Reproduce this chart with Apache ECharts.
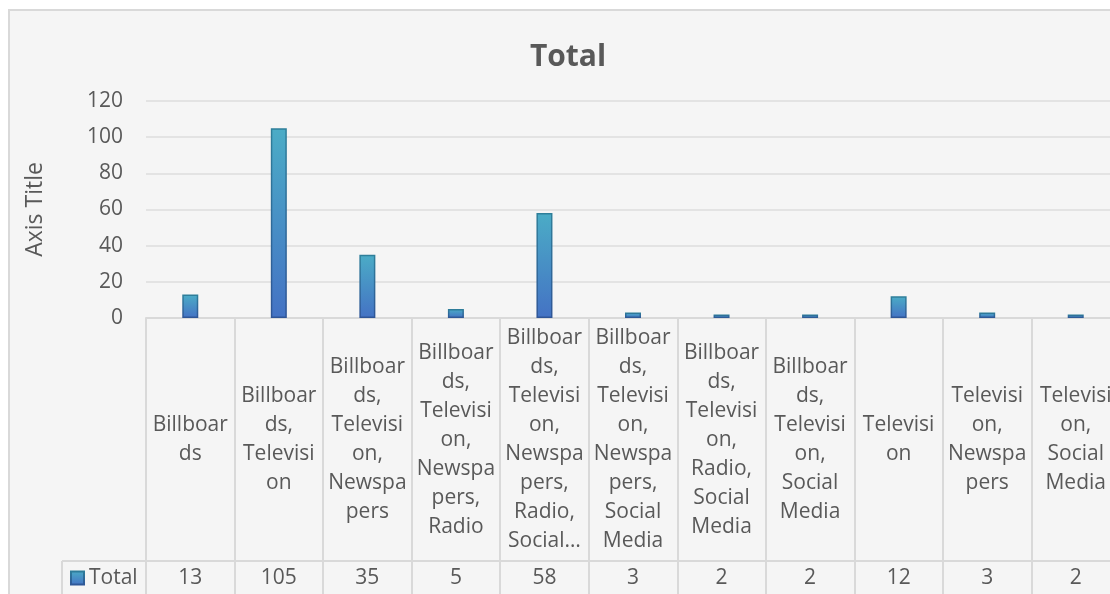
<!DOCTYPE html>
<html>
<head>
<meta charset="utf-8">
<script src="https://cdn.jsdelivr.net/npm/echarts@6/dist/echarts.min.js"></script>
<style>
  html, body { margin: 0; padding: 0; background: #ffffff; }
  #chart { width: 1110px; height: 594px; }
</style>
</head>
<body>
<div id="chart"></div>
<script>
// Media combinations and how many respondents picked each one
const categories = [
  'Billboards',
  'Billboards, Television',
  'Billboards, Television, Newspapers',
  'Billboards, Television, Newspapers, Radio',
  'Billboards, Television, Newspapers, Radio, Social Media',
  'Billboards, Television, Newspapers, Social Media',
  'Billboards, Television, Radio, Social Media',
  'Billboards, Television, Social Media',
  'Television',
  'Television, Newspapers',
  'Television, Social Media'
];
const totals = [13, 105, 35, 5, 58, 3, 2, 2, 12, 3, 2];
const yTicks = [0, 20, 40, 60, 80, 100, 120];
const seriesName = 'Total';
const chartTitle = 'Total';
const yAxisTitle = 'Axis Title';

const FONT = '"Open Sans", "Noto Sans", sans-serif';
const TEXT = '#595959';
const LINE = '#d9d9d9';
const LABEL_SIZE = 21;
const CELL_TEXT_WIDTH = 81;
const CELL_MAX_LINES = 8;

// Word-wrap a category name the way a narrow table cell does it:
// break between words, split words that are too long on their own,
// and cut the text with an ellipsis when it runs out of lines.
const measureCtx = document.createElement('canvas').getContext('2d');
function wrapLabel(text) {
  measureCtx.font = LABEL_SIZE + 'px ' + FONT;
  const w = s => measureCtx.measureText(s).width;
  const lines = [];
  let line = '';
  for (const word of text.split(' ')) {
    const candidate = line ? line + ' ' + word : word;
    if (w(candidate) <= CELL_TEXT_WIDTH) { line = candidate; continue; }
    if (line) lines.push(line);
    let rest = word;
    while (w(rest) > CELL_TEXT_WIDTH && rest.length > 1) {
      let n = rest.length;
      while (n > 1 && w(rest.slice(0, n)) > CELL_TEXT_WIDTH) n--;
      lines.push(rest.slice(0, n));
      rest = rest.slice(n);
    }
    line = rest;
  }
  if (line) lines.push(line);
  if (lines.length > CELL_MAX_LINES) {
    lines.length = CELL_MAX_LINES;
    lines[CELL_MAX_LINES - 1] += '…';
  }
  return lines.join('\n');
}

const barFill = new echarts.graphic.LinearGradient(0, 0, 0, 1, [
  { offset: 0, color: '#4bacc6' },
  { offset: 1, color: '#4472c4' }
]);
const barEdge = new echarts.graphic.LinearGradient(0, 0, 0, 1, [
  { offset: 0, color: '#2e7f9a' },
  { offset: 1, color: '#2f5597' }
]);

const chart = echarts.init(document.getElementById('chart'), null, { renderer: 'canvas' });

chart.setOption({
  backgroundColor: '#ffffff',
  animation: false,
  textStyle: { fontFamily: FONT },
  title: {
    text: chartTitle,
    left: 563,
    top: 37,
    textAlign: 'center',
    textStyle: { fontFamily: FONT, fontSize: 30, fontWeight: 'bold', color: TEXT }
  },
  // chart area panel with its thin border
  graphic: [
    {
      type: 'rect', z: -10, silent: true,
      shape: { x: 9, y: 10, width: 1109, height: 600 },
      style: { fill: '#f5f5f5', stroke: LINE, lineWidth: 2 }
    },
    // left and top edges of the legend-key cell in the data table
    {
      type: 'line', z: 5, silent: true,
      shape: { x1: 62, y1: 561, x2: 147, y2: 561 },
      style: { stroke: LINE, lineWidth: 2 }
    },
    {
      type: 'line', z: 5, silent: true,
      shape: { x1: 62, y1: 561, x2: 62, y2: 600 },
      style: { stroke: LINE, lineWidth: 2 }
    }
  ],
  legend: {
    data: [seriesName],
    left: 70,
    top: 567,
    padding: 0,
    icon: 'rect',
    itemWidth: 13,
    itemHeight: 13,
    itemGap: 10,
    textStyle: { fontFamily: FONT, fontSize: LABEL_SIZE, color: TEXT, lineHeight: 22, padding: [0, 0, 0, 0] }
  },
  grid: {
    left: 146, top: 101, width: 974, height: 217,
    containLabel: false,
    outerBoundsMode: 'none'
  },
  xAxis: [
    {
      type: 'category',
      data: categories,
      position: 'bottom',
      axisLine: { show: true, lineStyle: { color: LINE, width: 2 } },
      axisTick: { show: true, interval: 0, length: 290, lineStyle: { color: LINE, width: 2 } },
      axisLabel: {
        interval: 0,
        margin: 122,
        verticalAlign: 'middle',
        align: 'center',
        fontFamily: FONT,
        fontSize: LABEL_SIZE,
        lineHeight: 29,
        color: TEXT,
        formatter: v => wrapLabel(v)
      },
      splitLine: { show: false }
    },
    {
      // value row of the data table under the category row
      type: 'category',
      data: categories,
      position: 'bottom',
      offset: 243,
      axisLine: { show: true, lineStyle: { color: LINE, width: 2 } },
      axisTick: { show: false },
      axisLabel: {
        interval: 0,
        margin: 17,
        verticalAlign: 'middle',
        fontFamily: FONT,
        fontSize: LABEL_SIZE,
        color: TEXT,
        formatter: (v, i) => String(totals[i])
      },
      splitLine: { show: false }
    }
  ],
  yAxis: {
    type: 'value',
    min: yTicks[0],
    max: yTicks[yTicks.length - 1],
    interval: yTicks[1] - yTicks[0],
    name: yAxisTitle,
    nameLocation: 'middle',
    nameGap: 99,
    nameRotate: 90,
    nameTextStyle: { fontFamily: FONT, fontSize: 23, color: TEXT },
    axisLine: { show: false },
    axisTick: { show: false },
    axisLabel: { margin: 23, fontFamily: FONT, fontSize: LABEL_SIZE, color: TEXT },
    splitLine: { show: true, lineStyle: { color: '#e3e3e3', width: 2 } }
  },
  series: [
    {
      name: seriesName,
      type: 'bar',
      xAxisIndex: 0,
      data: totals,
      barWidth: 16,
      itemStyle: { color: barFill, borderColor: barEdge, borderWidth: 1.5 }
    }
  ]
});
</script>
</body>
</html>
